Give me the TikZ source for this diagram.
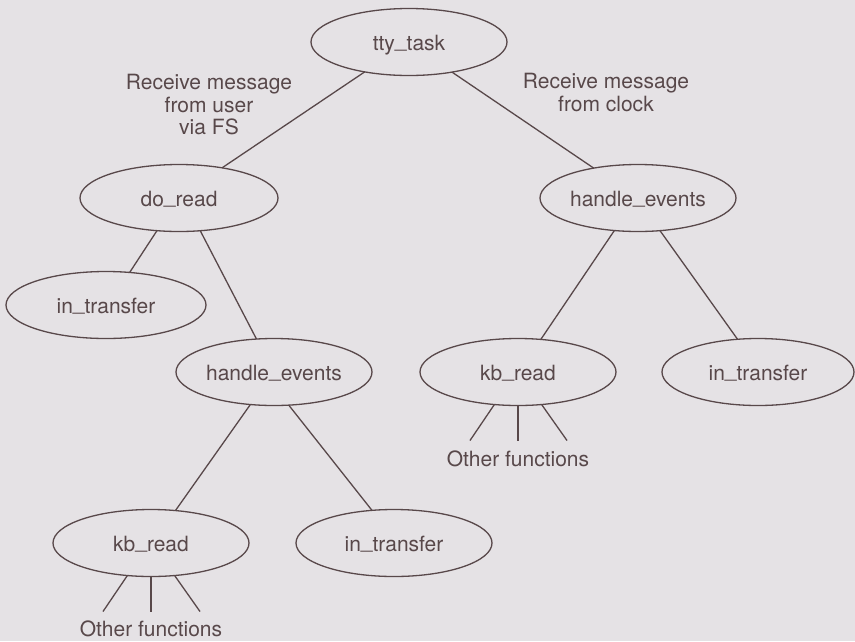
\documentclass[tikz,border=0pt]{standalone}
\usepackage{fontspec}
\setmainfont{TeX Gyre Heros}
\usetikzlibrary{shapes.geometric,calc}
\definecolor{paper}{RGB}{229,226,229}
\definecolor{ink}{RGB}{88,72,74}
\newcommand\usc{\raisebox{2.6pt}{\_}}
\tikzset{
  fnode/.style={ellipse,draw=ink,line width=1.3pt,inner sep=0pt,outer sep=0pt,
    text=ink,text height=17pt,text depth=0pt,minimum width=196pt,minimum height=67pt},
  note/.style={align=center,text=ink,inner sep=0pt},
  link/.style={draw=ink,line width=1.3pt},
}
\begin{document}
\begin{tikzpicture}[x=1pt,y=-1pt,font=\fontsize{21}{22.5}\selectfont]
  \fill[paper] (0,0) rectangle (855,641);
  \useasboundingbox (0,0) rectangle (855,641);
  % functions
  \node[fnode] (tty) at (409,42) {tty\usc task};
  \node[fnode,minimum width=198pt] (doread) at (179,198) {do\usc read};
  \node[fnode] (her) at (638,198) {handle\usc events};
  \node[fnode,minimum width=200pt] (itl) at (106,305) {in\usc transfer};
  \node[fnode] (hel) at (274,372) {handle\usc events};
  \node[fnode] (kbr) at (518,372) {kb\usc read};
  \node[fnode,minimum width=192pt] (itr) at (758,372) {in\usc transfer};
  \node[fnode] (kbl) at (151,543) {kb\usc read};
  \node[fnode] (itb) at (394,543) {in\usc transfer};
  % messages
  \node[note,anchor=north] (msgfs) at (209,74) {Receive message\\from user\\via FS};
  \node[note,anchor=north] (msgclk) at (606,73) {Receive message\\from clock};
  \node[note,anchor=base] (ofr) at (518,466) {Other functions};
  \node[note,anchor=base] (ofl) at (151,636) {Other functions};
  % calls
  \draw[link] (tty.214) -- (doread.35);
  \draw[link] (tty.325) -- (her.146);
  \draw[link] (doread.236) -- (itl.54);
  \draw[link] (doread.303) -- (hel.118);
  \draw[link] (her.234) -- (kbr.55);
  \draw[link] (her.304) -- (itr.122);
  \draw[link] (hel.234) -- (kbl.53);
  \draw[link] (hel.294) -- (itb.124);
  \foreach \k in {kbl,kbr}
    \foreach \n/\a/\dx in {1/234/-48,2/270/0,3/306/49} {
      \coordinate (\k-\n) at ($(\k.south)+(\dx,35)$);
      \draw[link] (\k.\a) -- (\k-\n);
    }
\end{tikzpicture}
\end{document}
